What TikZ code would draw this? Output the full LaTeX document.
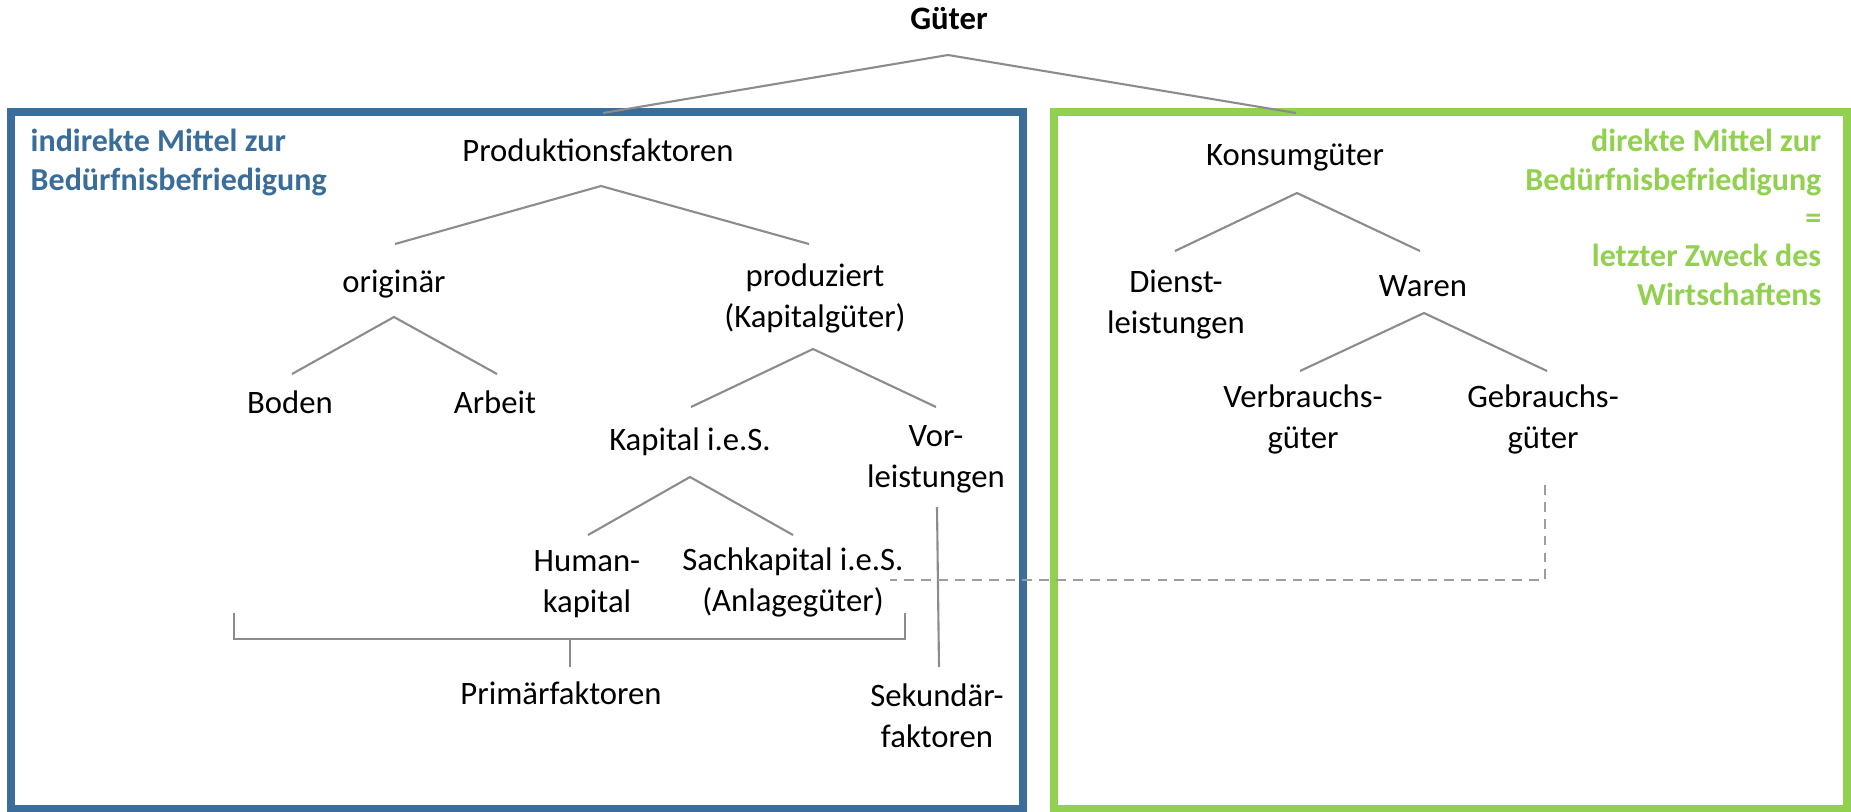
\documentclass[tikz,border=0pt]{standalone}
\usepackage{fontspec}
\setmainfont{Carlito}
\usetikzlibrary{positioning}
\definecolor{boxblue}{RGB}{58,109,154}
\definecolor{boxgreen}{RGB}{146,208,80}
\definecolor{linegray}{RGB}{140,140,140}
\tikzstyle{txt} = [inner sep=0pt, anchor=base, align=center, font=\fontsize{9.3}{11.4}\selectfont]
\tikzstyle{note} = [inner sep=0pt, font=\fontsize{9.1}{10.9}\selectfont\bfseries]
\tikzstyle{tree} = [linegray, line width=0.6pt]
\tikzstyle{frame} = [line width=2.3pt]

\begin{document}
\begin{tikzpicture}[x=0.01cm,y=-0.01cm]
\useasboundingbox (0,0) rectangle (1851,812);
% frames
\draw[frame, boxblue] (11,112) rectangle (1023,809);
\draw[frame, boxgreen] (1054,112) rectangle (1847,809);
% multi-line nodes sit on their last line
\node (ind) [note, boxblue, anchor=base west, align=left] at (30,190) {indirekte Mittel zur\\Bedürfnisbefriedigung};
\node (dir) [note, boxgreen, anchor=base east, align=right] at (1822,305) {direkte Mittel zur\\Bedürfnisbefriedigung\\=\\letzter Zweck des\\Wirtschaftens};
% labels
\node (g) [txt, font=\fontsize{9.3}{11.4}\selectfont\bfseries] at (949,29) {Güter};
\node (pf) [txt] at (598,161) {Produktionsfaktoren};
\node (or) [txt] at (394,292) {originär};
\node (pz) [txt] at (815,327) {produziert\\(Kapitalgüter)};
\node (bo) [txt] at (290,413) {Boden};
\node (ar) [txt] at (495,413) {Arbeit};
\node (ki) [txt] at (690,450) {Kapital i.e.S.};
\node (vl) [txt] at (936,487) {Vor-\\leistungen};
\node (hk) [txt] at (587,612) {Human-\\kapital};
\node (sk) [txt] at (793,611) {Sachkapital i.e.S.\\(Anlagegüter)};
\node (pr) [txt] at (561,704) {Primärfaktoren};
\node (se) [txt] at (937,747) {Sekundär-\\faktoren};
\node (kg) [txt] at (1295,165) {Konsumgüter};
\node (dl) [txt] at (1176,333) {Dienst-\\leistungen};
\node (wa) [txt] at (1423,296) {Waren};
\node (vg) [txt] at (1303,448) {Verbrauchs-\\güter};
\node (gg) [txt] at (1543,448) {Gebrauchs-\\güter};
% branch points
\coordinate (g-t) at (948,55);
\coordinate (g-l) at (603,113);
\coordinate (g-r) at (1296,113);
\coordinate (pf-t) at (601,186);
\coordinate (pf-l) at (395,244);
\coordinate (pf-r) at (809,244);
\coordinate (or-t) at (394,317);
\coordinate (or-l) at (292,374);
\coordinate (or-r) at (497,374);
\coordinate (pz-t) at (813,349);
\coordinate (pz-l) at (691,407);
\coordinate (pz-r) at (936,407);
\coordinate (ki-t) at (690,477);
\coordinate (ki-l) at (588,535);
\coordinate (ki-r) at (793,535);
\coordinate (vl-b) at (937,507);
\coordinate (se-t) at (939,667);
\coordinate (kg-t) at (1297,193);
\coordinate (kg-l) at (1175,251);
\coordinate (kg-r) at (1420,251);
\coordinate (wa-t) at (1424,313);
\coordinate (wa-l) at (1300,371);
\coordinate (wa-r) at (1547,371);
\coordinate (br-l) at (234,613);
\coordinate (br-r) at (905,613);
\coordinate (br-m) at (570,639);
\coordinate (pr-t) at (570,667);
\coordinate (gg-b) at (1545,485);
\coordinate (sk-r) at (890,580);
% tree
\draw[tree] (g-l)--(g-t)--(g-r);
\draw[tree] (pf-l)--(pf-t)--(pf-r);
\draw[tree] (or-l)--(or-t)--(or-r);
\draw[tree] (pz-l)--(pz-t)--(pz-r);
\draw[tree] (ki-l)--(ki-t)--(ki-r);
\draw[tree] (vl-b)--(se-t);
\draw[tree] (kg-l)--(kg-t)--(kg-r);
\draw[tree] (wa-l)--(wa-t)--(wa-r);
\draw[tree] (br-l) |- (br-m) -| (br-r);
\draw[tree] (br-m)--(pr-t);
\draw[linegray!85, line width=0.6pt, dash pattern=on 2.8pt off 2pt] (gg-b) |- (sk-r);
\end{tikzpicture}
\end{document}
